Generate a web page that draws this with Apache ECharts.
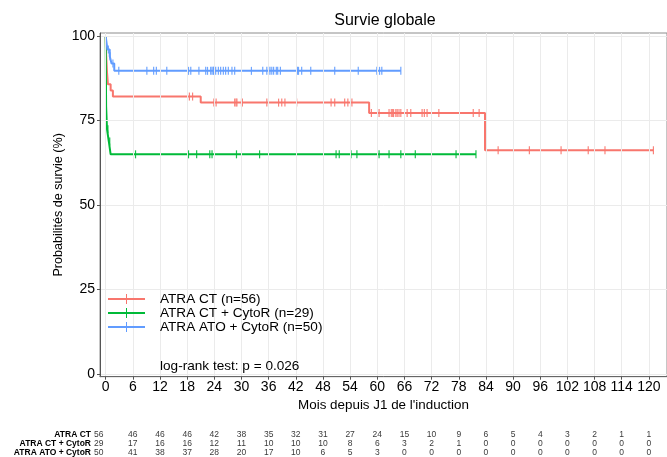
<!DOCTYPE html>
<html><head><meta charset="utf-8">
<script src="https://cdn.jsdelivr.net/npm/echarts@6/dist/echarts.min.js"></script>
<style>html,body{margin:0;padding:0;background:#fff}#c{width:667px;height:457px}</style>
</head><body><div id="c"></div>
<script>
// ---------- data ----------
const groups = ['ATRA CT', 'ATRA CT + CytoR', 'ATRA ATO + CytoR'];
const legendNames = ['ATRA CT (n=56)', 'ATRA CT + CytoR (n=29)', 'ATRA ATO + CytoR (n=50)'];
const xTicks = [0, 6, 12, 18, 24, 30, 36, 42, 48, 54, 60, 66, 72, 78, 84, 90, 96, 102, 108, 114, 120];
const yTicks = [0, 25, 50, 75, 100];

// Kaplan-Meier steps (time in months, survival in %)
const stepTimesCT = [0, 0.1, 0.3, 0.5, 1.1, 1.6, 21.0, 58.2, 83.8];
const stepSurvCT  = [100, 94.6, 89.3, 85.7, 83.9, 82.1, 80.3, 77.2, 66.2];
const endTimeCT = 121.0;
const censorCT = [18.5, 19.2, 23.9, 24.4, 28.5, 28.8, 29.0, 30.0, 30.2, 35.6, 38.2, 38.9, 39.6, 42.2,
  49.8, 50.6, 52.8, 53.5, 54.4, 58.7, 60.4, 62.6, 63.1, 63.4, 63.6, 64.1, 64.4, 64.8, 65.2, 66.6, 67.4,
  69.9, 70.4, 71.0, 73.6, 81.2, 82.5, 86.7, 93.6, 100.6, 106.6, 110.3, 121.0];

const stepTimesCTR = [0, 0.1, 0.3, 0.7, 1.1];
const stepSurvCTR  = [100, 79.3, 72.4, 68.8, 65.0];
const endTimeCTR = 81.8;
const censorCTR = [0.5, 0.9, 6.6, 18.3, 20.1, 23.0, 23.5, 28.9, 34.0, 50.9, 51.6, 54.2, 55.5,
  60.4, 62.6, 65.2, 68.4, 77.4, 81.8];

const stepTimesATO = [0, 0.2, 0.4, 0.9, 1.3, 1.9];
const stepSurvATO  = [100, 98, 96, 94.0, 91.9, 89.7];
const endTimeATO = 65.2;
const censorATO = [0.6, 1.0, 1.6, 2.9, 9.1, 10.6, 11.2, 13.5, 18.3, 18.8, 20.6, 22.1, 22.5, 23.2, 23.5,
  23.8, 23.9, 24.3, 24.9, 25.4, 26.0, 26.5, 27.1, 27.9, 28.5, 32.2, 34.7, 35.6, 36.0, 36.3, 36.7, 37.1,
  37.7, 38.0, 38.6, 42.4, 42.6, 43.3, 45.3, 50.6, 55.8, 59.9, 60.5, 61.0, 65.2];

// numbers at risk at each xTick
const riskCT  = [56, 46, 46, 46, 42, 38, 35, 32, 31, 27, 24, 15, 10, 9, 6, 5, 4, 3, 2, 1, 1];
const riskCTR = [29, 17, 16, 16, 12, 11, 10, 10, 10, 8, 6, 3, 2, 1, 0, 0, 0, 0, 0, 0, 0];
const riskATO = [50, 41, 38, 37, 28, 20, 17, 10, 6, 5, 3, 0, 0, 0, 0, 0, 0, 0, 0, 0, 0];

// ---------- styles ----------
const colors = ['#F8766D', '#00BA38', '#619CFF'];
const FONT = '"Liberation Sans", Arial, sans-serif';

function stepLine(times, surv, end) {
  const pts = [];
  for (let i = 0; i < times.length; i++) {
    if (i > 0) pts.push([times[i], surv[i - 1]]);
    pts.push([times[i], surv[i]]);
  }
  pts.push([end, surv[surv.length - 1]]);
  return pts;
}
function survAt(times, surv, t) {
  let v = surv[0];
  for (let i = 0; i < times.length; i++) if (times[i] <= t) v = surv[i];
  return v;
}
const curves = [
  [stepTimesCT, stepSurvCT, endTimeCT, censorCT],
  [stepTimesCTR, stepSurvCTR, endTimeCTR, censorCTR],
  [stepTimesATO, stepSurvATO, endTimeATO, censorATO]
];
const risks = [riskCT, riskCTR, riskATO];

const series = [];
curves.forEach((c, i) => {
  series.push({
    name: legendNames[i], type: 'line', xAxisIndex: 0, yAxisIndex: 0,
    data: stepLine(c[0], c[1], c[2]), showSymbol: false, symbol: 'none',
    color: colors[i], lineStyle: { color: colors[i], width: 2 },
    silent: true, z: 3 + i
  });
});
curves.forEach((c, i) => {
  series.push({
    name: groups[i] + ' censure', type: 'scatter', xAxisIndex: 0, yAxisIndex: 0,
    data: c[3].map(t => [t, survAt(c[0], c[1], t)]),
    symbol: 'rect', symbolSize: [1.2, 8],
    itemStyle: { color: colors[i], opacity: 0.9 }, silent: true, z: 6 + i
  });
});
risks.forEach((r, i) => {
  series.push({
    name: groups[i] + ' risk', type: 'scatter', xAxisIndex: 1, yAxisIndex: 1,
    data: r.map((v, k) => {
      const item = { value: [xTicks[k], groups[i], v] };
      if (k === 0) item.label = { offset: [-7, 0] };
      return item;
    }),
    symbolSize: 1, itemStyle: { color: 'rgba(0,0,0,0)' }, silent: true,
    label: { show: true, position: 'inside', formatter: p => String(p.value[2]),
      fontSize: 8.5, color: '#000', fontFamily: FONT }
  });
});

const option = {
  animation: false,
  backgroundColor: '#fff',
  title: { text: 'Survie globale', left: 385, top: 13, textAlign: 'center', padding: 0,
    textStyle: { fontSize: 16, fontWeight: 'normal', color: '#000', fontFamily: FONT } },
  legend: {
    orient: 'vertical', left: 108, top: 292, padding: 0, itemGap: 0, z: 20,
    itemWidth: 37, itemHeight: 10,
    data: legendNames.map(n => ({ name: n, icon: 'path://M0,4H37V6H0Z M18,0H19V10H18Z' })),
    textStyle: { fontSize: 13.6, lineHeight: 14, color: '#000', fontFamily: FONT, padding: [0, 0, 0, 10] },
    selectedMode: false
  },
  graphic: [{
    type: 'rect', z: 15, silent: true,
    shape: { x: 101, y: 282, width: 247, height: 94 },
    style: { fill: '#fff' }
  }, {
    type: 'text', left: 160, top: 359, z: 20,
    style: { text: 'log-rank test: p = 0.026', font: '13.6px ' + FONT, fill: '#000' }
  }],
  grid: [
    { left: 100, top: 33, width: 572, height: 343.7, show: true, borderColor: '#8c8c8c', borderWidth: 1, backgroundColor: '#fff' },
    { left: 100, top: 429.8, width: 572, height: 30 }
  ],
  xAxis: [{
    type: 'value', gridIndex: 0, min: -1.25, max: 124, z: 16,
    name: "Mois depuis J1 de l'induction", nameLocation: 'middle', nameGap: 21,
    nameTextStyle: { fontSize: 13.4, color: '#000', fontFamily: FONT },
    axisLine: { show: true, onZero: false, lineStyle: { color: '#666', width: 1 } },
    axisTick: { show: true, length: 3, customValues: xTicks, lineStyle: { color: '#555' } },
    axisLabel: { customValues: xTicks, margin: 3.5, fontSize: 14, color: '#000', fontFamily: FONT },
    splitLine: { show: true, lineStyle: { color: '#ebebeb', width: 1 } }
  }, {
    type: 'value', gridIndex: 1, min: -1.25, max: 124, show: false
  }],
  yAxis: [{
    type: 'value', gridIndex: 0, min: -0.8, max: 100.9, z: 16,
    name: 'Probabilités de survie (%)', nameLocation: 'middle', nameGap: 35, nameMoveOverlap: false,
    nameTextStyle: { fontSize: 12.6, color: '#000', fontFamily: FONT },
    axisLine: { show: true, onZero: false, lineStyle: { color: '#555', width: 1 } },
    axisTick: { show: true, length: 3, customValues: yTicks, lineStyle: { color: '#555' } },
    axisLabel: { customValues: yTicks, margin: 5, fontSize: 14, color: '#000', fontFamily: FONT },
    splitLine: { show: true, lineStyle: { color: '#ebebeb', width: 1 } }
  }, {
    type: 'category', gridIndex: 1, data: groups, inverse: true,
    axisLine: { show: false }, axisTick: { show: false }, splitLine: { show: false },
    axisLabel: { interval: 0, margin: 9, fontSize: 8.5, fontWeight: 'bold', color: '#000', fontFamily: FONT }
  }],
  series: series
};
const chart = echarts.init(document.getElementById('c'), null, { renderer: 'canvas' });
chart.setOption(option);
</script>
</body></html>
